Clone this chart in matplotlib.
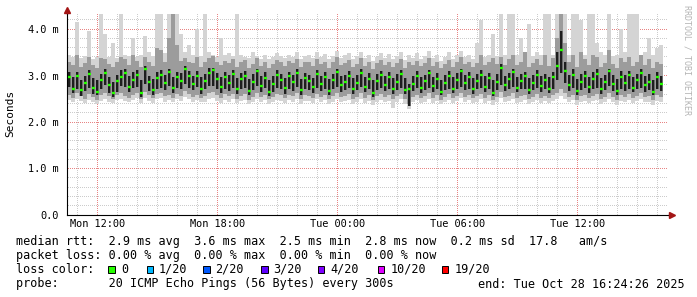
import numpy as np
import matplotlib
matplotlib.use("Agg")
import matplotlib.pyplot as plt
from matplotlib.patches import Rectangle

# ---------------- data (RTT in 1/100 ms, one value per 12 min, from Mon 10:30) ----------------
t_start_h = -1.5        # hours relative to Mon 12:00
step_h = 0.2

med = [297,272,300,268,284,303,274,265,291,305,
       279,263,289,297,306,276,291,301,262,313,
       286,268,295,301,283,307,274,296,289,315,
       300,282,298,270,288,306,311,292,275,296,
       283,304,271,292,300,266,287,309,278,295,
       264,281,302,290,273,298,285,306,268,294,
       288,275,303,282,296,267,290,308,279,286,
       299,271,284,305,276,293,262,289,301,280,
       296,270,287,303,268,270,281,299,274,288,
       306,277,293,265,284,300,272,291,309,283,
       296,270,288,302,276,294,263,285,316,279,
       292,307,274,288,298,268,284,301,277,290,
       272,296,320,355,310,279,301,266,287,299,
       275,293,304,270,286,309,281,266,297,283,
       302,274,290,306,279,287,265,296,281]

in_dn = [22,10,28,12,18,30,14,8,20,26,
         16,9,24,20,30,12,18,26,8,32,
         20,10,24,28,14,30,12,22,18,34,
         26,14,22,10,18,28,34,20,12,24,
         16,30,10,20,26,8,18,32,14,22,
         8,16,28,20,12,26,18,30,10,22,
         20,12,30,16,24,8,20,32,14,18,
         26,10,16,30,12,22,8,20,28,14,
         24,10,18,30,8,35,14,26,12,20,
         32,12,22,8,16,28,10,20,34,14,
         24,10,18,28,12,22,8,16,36,12,
         20,32,10,18,26,8,16,28,12,20,
         10,24,30,50,26,12,28,8,18,26,
         12,22,30,10,18,32,14,8,26,16,
         30,10,20,32,14,18,8,24,14]

in_up = [10,24,8,22,14,8,20,26,12,10,
         18,24,12,14,8,22,16,10,28,8,
         14,24,12,10,18,8,22,12,16,6,
         10,18,12,26,16,10,6,14,22,12,
         18,8,24,14,10,26,16,6,20,12,
         26,18,10,14,22,10,16,8,24,12,
         14,20,8,18,12,26,14,6,20,16,
         10,24,18,8,20,12,28,14,8,18,
         12,24,16,8,26,12,18,10,22,14,
         6,20,12,26,18,10,24,14,6,18,
         12,24,16,10,22,12,28,18,8,20,
         14,8,22,16,10,26,18,10,22,14,
         24,12,30,40,20,22,12,26,16,10,
         22,14,10,24,16,6,20,26,12,18,
         8,22,14,8,20,16,26,12,18]

p10 = [258,252,262,255,250,260,254,248,257,262,
       255,250,258,262,256,252,259,263,250,265,
       257,251,260,263,255,258,252,260,256,266,
       260,254,258,252,255,262,264,257,252,260,
       255,261,250,256,260,248,254,262,253,258,
       249,253,260,257,251,259,255,262,250,257,
       256,252,261,254,258,249,255,263,253,256,
       260,250,254,262,252,257,247,255,260,253,
       258,250,255,261,249,238,253,259,251,255,
       262,252,257,248,254,260,251,256,263,254,
       258,251,255,261,252,257,247,254,265,253,
       256,262,251,255,259,249,254,260,252,256,
       251,258,262,270,262,254,259,248,255,258,
       252,256,260,250,254,262,253,248,258,254,
       260,251,256,262,253,255,247,258,254]

p90 = [330,322,345,318,326,340,322,316,338,335,
       325,318,330,340,336,322,345,332,318,340,
       328,320,360,355,330,380,432,365,332,338,
       330,326,340,318,328,338,342,330,322,332,
       326,335,318,328,334,316,325,338,320,330,
       316,324,334,328,320,332,326,336,318,330,
       328,320,336,324,330,316,328,340,322,326,
       334,318,324,338,320,330,314,326,334,322,
       330,318,326,336,316,328,322,332,320,326,
       338,320,330,316,324,334,318,328,340,324,
       330,318,326,345,322,330,338,325,340,322,
       335,345,322,330,350,318,326,336,322,345,
       320,338,380,432,370,328,345,318,350,336,
       322,345,340,318,326,355,324,316,338,330,
       340,320,330,345,322,335,316,330,324]

hi = [345,340,415,338,342,395,336,340,432,390,
      340,370,338,432,345,342,380,340,345,385,
      350,342,432,432,348,432,432,432,390,350,
      365,345,400,342,432,350,345,340,380,345,
      348,342,432,345,340,338,350,342,336,345,
      335,340,348,342,338,345,340,350,336,342,
      345,338,350,340,346,335,342,352,338,344,
      348,336,342,350,338,345,332,340,348,338,
      346,335,342,350,334,344,338,348,336,342,
      352,338,345,332,340,350,336,345,352,340,
      345,336,370,420,340,345,390,342,432,345,
      432,432,345,380,350,410,342,350,345,432,
      432,345,432,432,432,345,432,432,420,345,
      432,432,370,350,345,432,342,345,400,350,
      432,432,432,345,350,380,345,360,365]

lo = [248,243,250,245,240,248,244,238,246,250,
      244,240,247,250,246,242,248,251,240,252,
      246,241,249,251,244,247,242,249,245,253,
      249,243,247,242,244,250,251,246,241,248,
      244,249,240,245,248,238,243,250,242,247,
      238,242,248,246,240,247,244,250,239,246,
      245,241,249,243,247,238,244,250,242,245,
      248,239,243,250,241,246,236,244,248,242,
      246,230,244,249,238,228,242,247,240,244,
      250,241,246,238,243,248,240,245,251,243,
      247,240,244,249,241,246,236,243,252,242,
      245,250,240,244,247,238,243,248,241,245,
      240,246,250,255,250,243,247,237,244,246,
      241,245,248,239,243,250,242,237,246,243,
      248,240,245,250,242,244,236,246,243]

x_ticks = [0, 6, 12, 18, 24]
x_labels = ["Mon 12:00", "Mon 18:00", "Tue 00:00", "Tue 06:00", "Tue 12:00"]
y_ticks = [0, 1, 2, 3, 4]
y_labels = ["0.0", "1.0 m", "2.0 m", "3.0 m", "4.0 m"]

loss_labels = ["0", "1/20", "2/20", "3/20", "4/20", "10/20", "19/20"]
loss_colors = ["#26ff00", "#00b8ff", "#0059ff", "#5e00ff", "#7e00ff", "#dd00ff", "#ff0000"]

# ---------------- figure ----------------
W, H = 697, 297
MONO = "DejaVu Sans Mono"
fig = plt.figure(figsize=(W / 100, H / 100), dpi=100)
fig.patch.set_facecolor("white")
L, R, T, B = 67, 668, 14, 215
PX_X = 20.0    # pixels per hour
PX_Y = 46.5    # pixels per ms
X0 = 97.3      # pixel column of Mon 12:00
ax = fig.add_axes([L / W, 1 - B / H, (R - L) / W, (B - T) / H])
ax.patch.set_alpha(0.0)

# ---- dotted grid as an exact pixel layer below the axes ----
grid = np.ones((H, W, 4))
minor_c = np.array([0.80, 0.80, 0.80, 1.0])
major_c = np.array([0.91, 0.52, 0.52, 1.0])
rows = np.arange(T, B)
cols = np.arange(L + 1, R)
def vline(h, c):
    col = int(np.floor(X0 + PX_X * h))
    rr = rows[(rows % 2) == 0]
    grid[rr, col] = c
def hline(v, c):
    row = int(np.floor(B - PX_Y * v))
    cc = cols[(cols % 2) == 0]
    grid[row, cc] = c
for h in range(-1, 29):
    if h % 6 != 0:
        vline(h, minor_c)
for k in range(1, 22):
    if k % 5 != 0:
        hline(k / 5.0, minor_c)
for h in x_ticks:
    vline(h, major_c)
for v in y_ticks[1:]:
    hline(v, major_c)
fig.figimage(grid, xo=0, yo=0, origin="upper", zorder=-1)

n = len(med)
edges = t_start_h + step_h * np.arange(n + 1)
centers = edges[:-1] + step_h / 2
m = np.array(med) / 100.0

def ext(a):
    a = np.asarray(a, dtype=float) / 100.0
    return np.append(a, a[-1])

q25 = (np.array(med) - np.array(in_dn)) / 100.0
q75 = (np.array(med) + np.array(in_up)) / 100.0

ax.fill_between(edges, ext(lo), ext(hi), step="post", color="#d4d4d4", lw=0, zorder=1)
ax.fill_between(edges, ext(p10), ext(p90), step="post", color="#9c9c9c", lw=0, zorder=2)
ax.bar(centers, q75 - q25, bottom=q25, width=step_h * 0.8, color="#6a6a6a", lw=0, zorder=3)
ax.bar(centers, q75 - q25, bottom=q25, width=step_h * 0.45, color="#1e1e1e", lw=0, zorder=4)
ax.hlines(m, centers - step_h * 0.36, centers + step_h * 0.36, colors="#26ff00", lw=1.7, zorder=5)

xmin, xmax = -(X0 - L) / PX_X, (R - X0) / PX_X
ymax = (B - T) / PX_Y
ax.set_xlim(xmin, xmax)
ax.set_ylim(0, ymax)

ax.set_xticks(x_ticks)
ax.set_xticklabels(x_labels)
ax.set_yticks(y_ticks)
ax.set_yticklabels(y_labels)

ax.tick_params(which="both", length=0)
ax.tick_params(axis="y", pad=6)
ax.tick_params(axis="x", pad=3)
for lab in ax.get_xticklabels() + ax.get_yticklabels():
    lab.set_family(MONO)
    lab.set_fontsize(7.4)

for s in ["top", "right"]:
    ax.spines[s].set_visible(False)
for s in ["left", "bottom"]:
    ax.spines[s].set_color("black")
    ax.spines[s].set_linewidth(0.8)
    ax.spines[s].set_zorder(6)

# axis extensions and arrows
ax.plot([0, 0], [1, 1.02], transform=ax.transAxes, color="black", lw=0.8, clip_on=False, zorder=6)
ax.plot([1, 1.005], [0, 0], transform=ax.transAxes, color="black", lw=0.8, clip_on=False, zorder=6)
ax.plot([0], [1.022], transform=ax.transAxes, marker="^", markersize=4, color="#a31515",
        clip_on=False, zorder=7, lw=0)
ax.plot([1.006], [0], transform=ax.transAxes, marker=">", markersize=4, color="#a31515",
        clip_on=False, zorder=7, lw=0)

# labels
fig.text(10 / W, 1 - 113 / H, "Seconds", rotation=90, va="center", ha="center",
         fontsize=8, family=MONO)
fig.text(687.5 / W, 1 - 60 / H, "RRDTOOL / TOBI OETIKER", rotation=270, va="center",
         ha="center", fontsize=6, family=MONO, color="#b4b4b4")

def ftext(x, y, s, **kw):
    fig.text(x / W, 1 - y / H, s, va="center", ha="left", fontsize=8.5, family=MONO, **kw)

ftext(16, 241, "median rtt:  2.9 ms avg  3.6 ms max  2.5 ms min  2.8 ms now  0.2 ms sd  17.8   am/s")
ftext(16, 255.5, "packet loss: 0.00 % avg  0.00 % max  0.00 % min  0.00 % now")
ftext(16, 269.5, "loss color:")
ftext(16, 284, "probe:       20 ICMP Echo Pings (56 Bytes) every 300s")
ftext(477.5, 284, "end: Tue Oct 28 16:24:26 2025")

sq_x = [108.3, 146.7, 203.3, 261.0, 317.7, 377.7, 441.7]
txt_x = [121.5, 158.5, 215.5, 273.0, 330.0, 390.5, 454.5]
for sx, tx, lab, c in zip(sq_x, txt_x, loss_labels, loss_colors):
    fig.add_artist(Rectangle((sx / W, 1 - 272.5 / H), 6.5 / W, 6.5 / H, transform=fig.transFigure,
                             facecolor=c, edgecolor="black", lw=0.7))
    ftext(tx, 269.5, lab)

fig.savefig("out.png", dpi=100, facecolor="white")
